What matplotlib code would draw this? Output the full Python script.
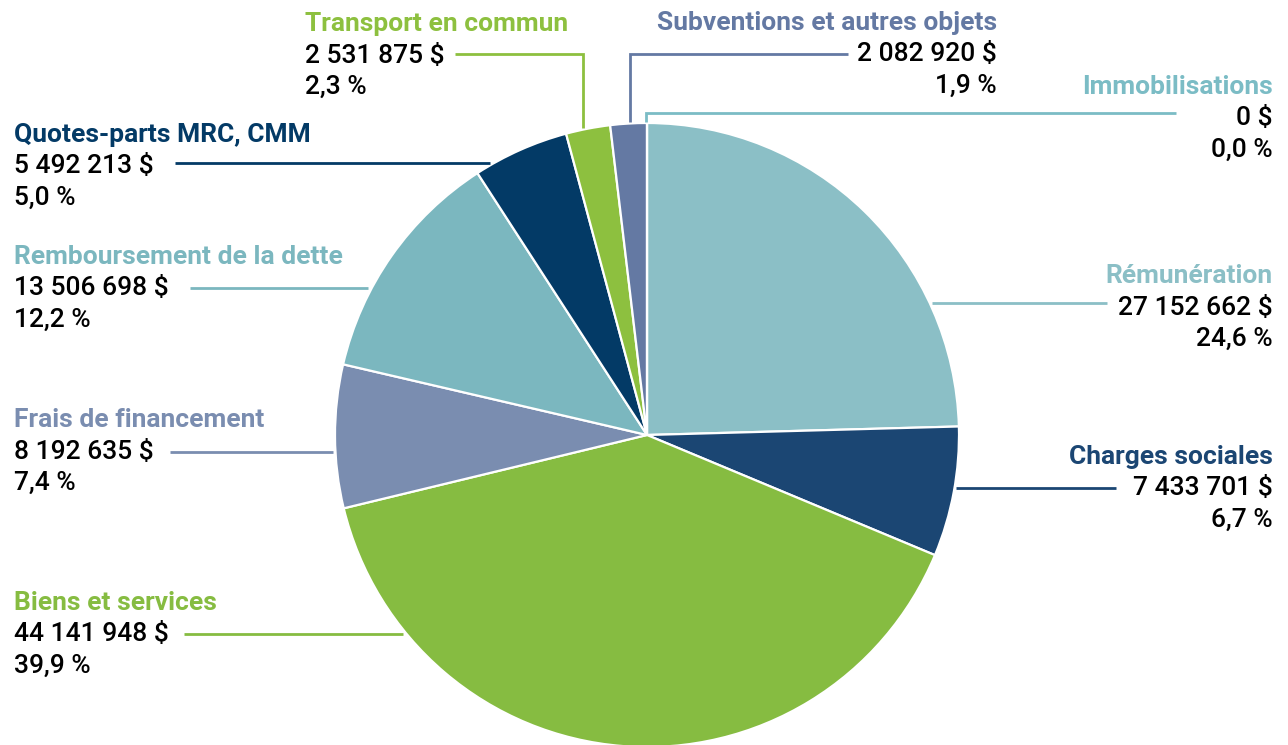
import matplotlib.pyplot as plt

plt.rcParams['font.family'] = ['Roboto', 'DejaVu Sans']

# data
categories = ['Rémunération', 'Charges sociales', 'Biens et services',
              'Frais de financement', 'Remboursement de la dette',
              'Quotes-parts MRC, CMM', 'Transport en commun',
              'Subventions et autres objets', 'Immobilisations']
amounts = [27152662, 7433701, 44141948, 8192635, 13506698,
           5492213, 2531875, 2082920, 0]
colors = ['#8BBFC6', '#1B4673', '#86BC41', '#7A8DB0', '#7BB7BF',
          '#033A66', '#8DC03F', '#6479A3', '#7BBCC5']

W, H = 1288, 745
total = sum(amounts)


def Y(y):
    # pixel row (from top) -> data y
    return H - y


fig = plt.figure(figsize=(W / 100, H / 100), dpi=100)
ax = fig.add_axes([0, 0, 1, 1])

cx, cy, r = 647, 435, 312
ax.pie(amounts, colors=colors, startangle=90, counterclock=False,
       center=(cx, Y(cy)), radius=r,
       wedgeprops=dict(edgecolor='white', linewidth=1.6))
ax.set_xlim(0, W)
ax.set_ylim(0, H)
ax.set_aspect('auto')
ax.axis('off')

# label layout: text anchor x, alignment, title baseline, leader path (pixels)
layout = {
    'Rémunération': (1273, 'right', 283, [(1107, 303), (932, 303)]),
    'Charges sociales': (1273, 'right', 464, [(1116, 488), (956, 488)]),
    'Biens et services': (14, 'left', 610, [(184, 634), (403, 634)]),
    'Frais de financement': (14, 'left', 427, [(170, 452), (333, 452)]),
    'Remboursement de la dette': (14, 'left', 264, [(190, 288), (368, 288)]),
    'Quotes-parts MRC, CMM': (14, 'left', 142, [(175, 163), (490, 163)]),
    'Transport en commun': (305, 'left', 31, [(455, 54), (583, 54), (583, 128)]),
    'Subventions et autres objets': (997, 'right', 30, [(848, 54), (630, 54), (630, 122)]),
    'Immobilisations': (1273, 'right', 94, [(1176, 113), (646, 113), (646, 122)]),
}

fs = 19
dy = 31.5
for name, amt, col in zip(categories, amounts, colors):
    x, ha, yb, path = layout[name]
    val = f"{amt:,}".replace(",", " ") + " $"
    pct = f"{amt / total * 100:.1f}".replace(".", ",") + " %"
    ax.text(x, Y(yb), name, ha=ha, va='baseline', color=col,
            fontsize=fs, fontweight='bold')
    ax.text(x, Y(yb + dy), val, ha=ha, va='baseline', color='black',
            fontsize=fs, fontweight='medium')
    ax.text(x, Y(yb + 2 * dy), pct, ha=ha, va='baseline', color='black',
            fontsize=fs, fontweight='medium')
    ax.plot([p[0] for p in path], [Y(p[1]) for p in path], color=col,
            linewidth=2, solid_capstyle='butt', solid_joinstyle='miter')

fig.savefig('out.png', dpi=100)
